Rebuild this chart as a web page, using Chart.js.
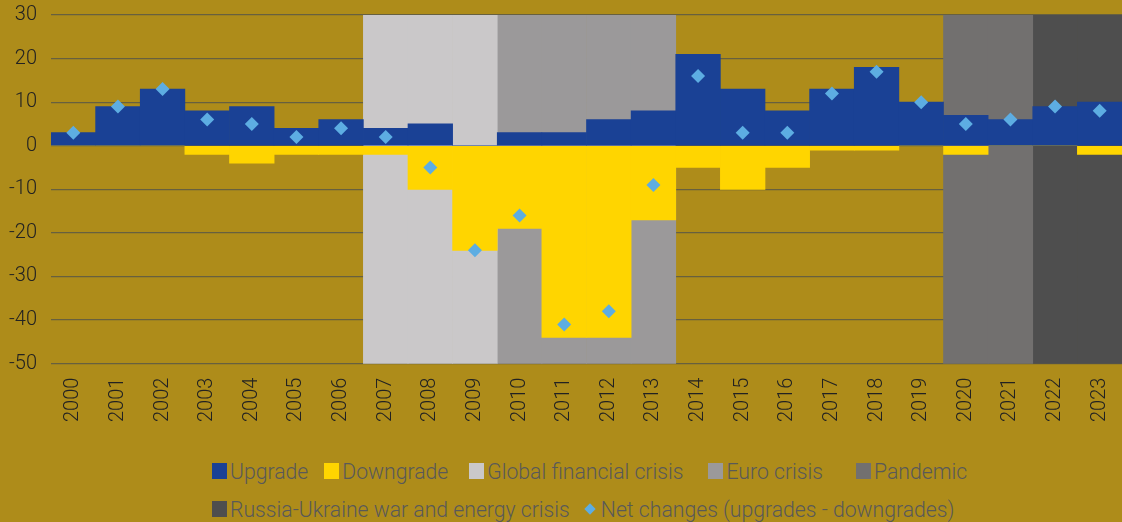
<!DOCTYPE html>
<html>
<head>
<meta charset="utf-8">
<script src="https://cdn.jsdelivr.net/npm/chart.js@4"></script>
<style>
    body { margin: 0; background: #AE8C1A; width: 1122px; height: 522px; overflow: hidden; position: relative; font-family: Roboto, "Noto Sans", sans-serif; }
    #wrap { position: absolute; left: 0; top: 0; width: 1122px; height: 442px; }
    #legend { position: absolute; left: 212px; top: 459px; color: #595959; font-size: 21.2px; font-weight: 300; }
    .row { display: flex; align-items: center; height: 24px; margin-bottom: 14px; white-space: nowrap; }
    .item { display: flex; align-items: center; }
    .box { width: 15px; height: 16px; margin-right: 3px; }
    .dia { width: 8px; height: 8px; transform: rotate(45deg); margin: 0 7px 0 2px; }
</style>
</head>
<body>
<div id="wrap"><canvas id="chart"></canvas></div>
<div id="legend"></div>
<script>
const years = ["2000","2001","2002","2003","2004","2005","2006","2007","2008","2009","2010","2011",
               "2012","2013","2014","2015","2016","2017","2018","2019","2020","2021","2022","2023"];

const upgrades   = [3, 9, 13, 8, 9, 4, 6, 4, 5, 0, 3, 3, 6, 8, 21, 13, 8, 13, 18, 10, 7, 6, 9, 10];
const downgrades = [0, 0, 0, -2, -4, -2, -2, -2, -10, -24, -19, -44, -44, -17, -5, -10, -5, -1, -1, 0, -2, 0, 0, -2];
const netChanges = [3, 9, 13, 6, 5, 2, 4, 2, -5, -24, -16, -41, -38, -9, 16, 3, 3, 12, 17, 10, 5, 6, 9, 8];

// crisis periods, shaded over the full axis range
const gfcYears      = ["2007","2008","2009"];
const euroYears     = ["2010","2011","2012","2013"];
const pandemicYears = ["2020","2021"];
const warYears      = ["2022","2023"];
const bandRange = [-50, 30];

const yTicks = { min: -50, max: 30, step: 10 };

function band(list){
    return years.map(y => list.includes(y) ? bandRange : null);
}

function bandSet(label, list, color){
    return {
        label: label,
        data: band(list),
        backgroundColor: color,
        grouped: false,
        barPercentage: 1,
        categoryPercentage: 1,
        order: 3
    };
}

const tickFont = { family: "Roboto", size: 20, weight: "300" };

const chart = new Chart(document.getElementById("chart"), {
    type: "bar",
    data: {
        labels: years,
        datasets: [
            { label: "Upgrade", data: upgrades, backgroundColor: "#1A4195", grouped: false,
              barPercentage: 1, categoryPercentage: 1, order: 2 },
            { label: "Downgrade", data: downgrades, backgroundColor: "#FFD500", grouped: false,
              barPercentage: 1, categoryPercentage: 1, order: 2 },
            bandSet("Global financial crisis", gfcYears, "#CAC8C9"),
            bandSet("Euro crisis", euroYears, "#9B999A"),
            bandSet("Pandemic", pandemicYears, "#72706F"),
            bandSet("Russia-Ukraine war and energy crisis", warYears, "#4E4E4E"),
            { type: "line", label: "Net changes (upgrades - downgrades)", data: netChanges,
              showLine: false, pointStyle: "rectRot", pointRadius: 7, pointHoverRadius: 7,
              backgroundColor: "#5DADE2", borderColor: "#5DADE2", pointBorderWidth: 0, order: 1 }
        ]
    },
    options: {
        responsive: true,
        maintainAspectRatio: false,
        animation: false,
        layout: { autoPadding: false, padding: { top: 15, left: 7, right: 0, bottom: 6 } },
        plugins: {
            legend: { display: false },
            tooltip: { enabled: false }
        },
        scales: {
            x: {
                grid: { display: false, drawTicks: false },
                border: { display: false },
                ticks: { color: "#222", font: tickFont, minRotation: 90, maxRotation: 90, padding: 14, autoSkip: false },
                afterFit: s => { s.paddingLeft = 0; s.paddingRight = 0; }
            },
            y: {
                min: yTicks.min,
                max: yTicks.max,
                grid: { color: "#67603F", lineWidth: 1.3, drawTicks: false },
                border: { display: false },
                ticks: { stepSize: yTicks.step, color: "#222", font: tickFont, padding: 14 },
                afterFit: s => { s.width = 44; s.paddingTop = 0; s.paddingBottom = 0; }
            }
        }
    }
});

// html legend, two rows like the original
const legendRows = [[0, 1, 2, 3, 4], [5, 6]];
const legendGaps = [[16, 21, 25, 33, 0], [14, 0]];
const legendEl = document.getElementById("legend");
legendRows.forEach((row, ri) => {
    const r = document.createElement("div");
    r.className = "row";
    row.forEach((i, k) => {
        const ds = chart.data.datasets[i];
        const item = document.createElement("div");
        item.className = "item";
        item.style.marginRight = legendGaps[ri][k] + "px";
        const mark = document.createElement("span");
        mark.className = ds.type === "line" ? "dia" : "box";
        mark.style.background = ds.backgroundColor;
        const txt = document.createElement("span");
        txt.textContent = ds.label;
        item.appendChild(mark);
        item.appendChild(txt);
        r.appendChild(item);
    });
    legendEl.appendChild(r);
});
</script>
</body>
</html>
